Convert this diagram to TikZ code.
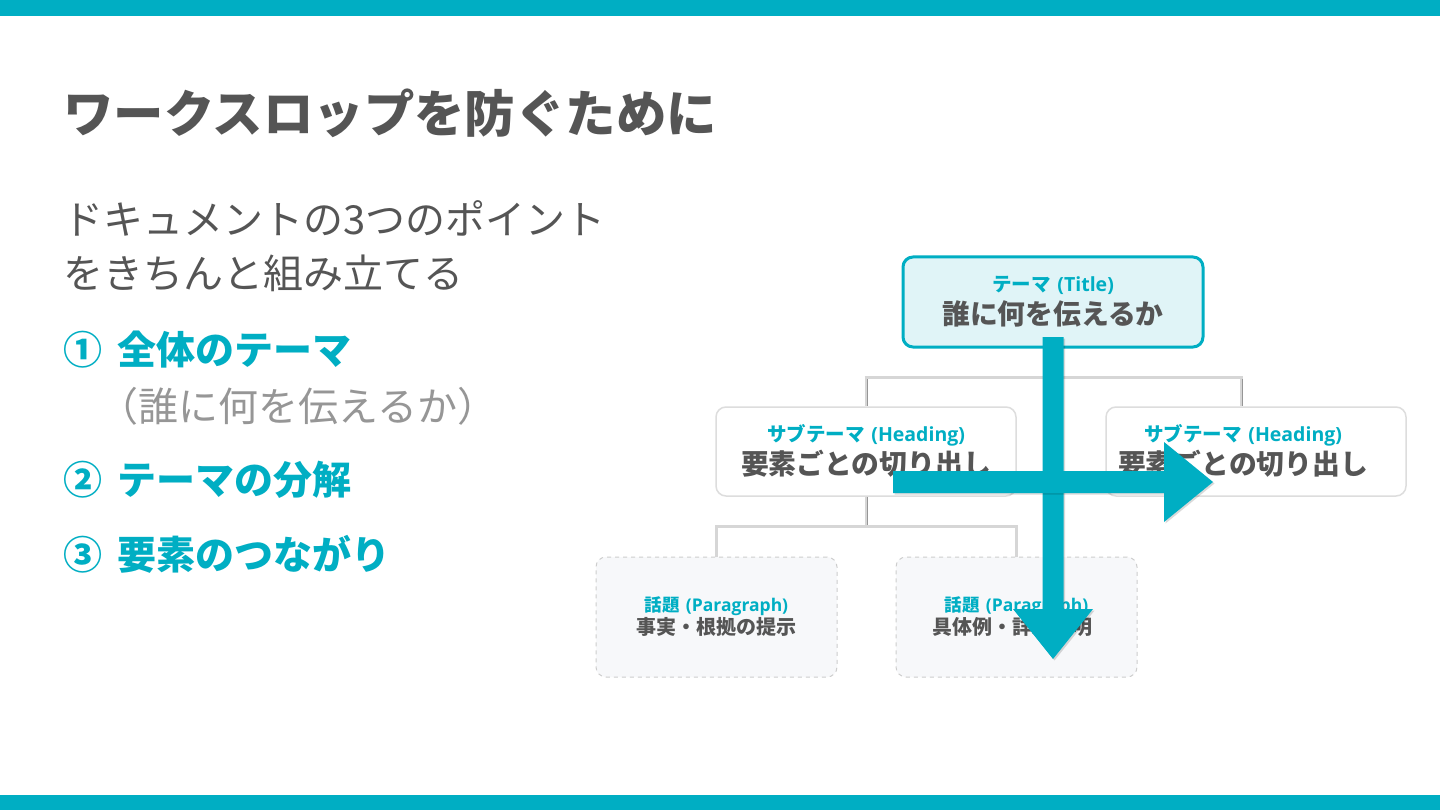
\documentclass[tikz,border=0pt]{standalone}
\usepackage{fontspec}
\setmainfont{Noto Sans CJK JP}
\newfontfamily\lf{Open Sans}
\usetikzlibrary{shadows}
\definecolor{teal1}{RGB}{0,174,195}
\definecolor{tealfill}{RGB}{224,244,247}
\definecolor{dark}{RGB}{85,85,85}
\definecolor{mid}{RGB}{150,150,150}
\definecolor{boxline}{RGB}{221,221,221}
\definecolor{parafill}{RGB}{247,248,250}
\definecolor{paraline}{RGB}{205,205,205}
\definecolor{hl}{RGB}{214,214,214}
\definecolor{vl}{RGB}{150,150,150}
\newcommand{\fs}[1]{\fontsize{#1}{#1}\selectfont}
\newcommand{\labgap}{\hspace{0.35em}}
\tikzset{
  txt/.style={inner sep=0pt, anchor=west, text=dark},
  titlebox/.style={draw=teal1, line width=3pt, fill=tealfill, rounded corners=10pt,
    minimum width=300pt, minimum height=90pt, inner sep=0pt},
  headbox/.style={draw=boxline, line width=1.5pt, fill=white, rounded corners=10pt,
    minimum width=300pt, minimum height=89pt, inner sep=0pt},
  parabox/.style={draw=paraline, line width=1pt, dash pattern=on 4pt off 4pt, fill=parafill,
    rounded corners=10pt, minimum width=241pt, minimum height=120pt, inner sep=0pt},
  lab/.style={inner sep=0pt, text=teal1, font=\bfseries\fs{19.5}},
  mainlab/.style={inner sep=0pt, text=dark, font=\bfseries\fs{27.8}},
  plab/.style={inner sep=0pt, text=teal1, font=\bfseries\fs{17.5}},
  pmain/.style={inner sep=0pt, text=dark, font=\bfseries\fs{20}},
  hline/.style={draw=hl, line width=3pt},
  vline/.style={draw=vl, line width=0.7pt, double=hl, double distance=1.6pt},
  bigarrow/.style={fill=teal1, draw=none, drop shadow={shadow xshift=1.5pt, shadow yshift=-1.5pt, opacity=0.15, fill=black}},
}
\begin{document}
\begin{tikzpicture}[x=1pt, y=-1pt]
\useasboundingbox (0,0) rectangle (1440,810);
\fill[white] (0,0) rectangle (1440,810);
% bars
\fill[teal1] (0,0) rectangle (1440,16);
\fill[teal1] (0,795) rectangle (1440,810);

% left text
\node[txt, font=\bfseries\fs{50.4}] (ttl) at (63,113) {ワークスロップを防ぐために};
\node[txt, font=\fs{40}] (s1) at (63,218) {ドキュメントの3つのポイント};
\node[txt, font=\fs{40}] (s2) at (63,273) {をきちんと組み立てる};
\node[txt, font=\bfseries\fs{39}, text=teal1] (i1) at (63,350) {①\hspace{15pt}全体のテーマ};
\node[txt, font=\fs{40}, text=mid] (i1b) at (98,406) {（誰に何を伝えるか）};
\node[txt, font=\bfseries\fs{39}, text=teal1] (i2) at (63,480) {②\hspace{15pt}テーマの分解};
\node[txt, font=\bfseries\fs{39}, text=teal1] (i3) at (63,554) {③\hspace{15pt}要素のつながり};

% boxes
\node[titlebox] (title) at (1053,302) {};
\node[lab] (titleA) at (1053,285) {テーマ\labgap{\lf(Title)}};
\node[mainlab] (titleB) at (1053,314) {誰に何を伝えるか};

\node[headbox] (h1) at (866,451.5) {};
\node[lab] (h1a) at (866,435) {サブテーマ\labgap{\lf(Heading)}};
\node[mainlab] (h1b) at (866,464) {要素ごとの切り出し};
\node[headbox] (h2) at (1256,451.5) {};
\node[lab] (h2a) at (1243,435) {サブテーマ\labgap{\lf(Heading)}};
\node[mainlab] (h2b) at (1243,464) {要素ごとの切り出し};

\node[parabox] (p1) at (716.5,617) {};
\node[plab] (p1a) at (716.5,606) {話題\labgap{\lf(Paragraph)}};
\node[pmain] (p1b) at (716.5,627) {事実・根拠の提示};
\node[parabox] (p2) at (1016.5,617) {};
\node[plab] (p2a) at (1016.5,606) {話題\labgap{\lf(Paragraph)}};
\node[pmain] (p2b) at (1012,627) {具体例・詳細説明};

% connectors
\coordinate (j1) at (1053,377);
\coordinate (j1l) at (866,377);
\coordinate (j1r) at (1241,377);
\draw[vline] (title.south) -- (j1);
\draw[vline] (j1l) -- (h1.north);
\draw[vline] (j1r) -- (j1r |- h2.north);
\draw[hline] ([xshift=-1.5pt]j1l) -- ([xshift=1.5pt]j1r);
\coordinate (j2) at (866,526);
\coordinate (j2l) at (716.5,526);
\coordinate (j2r) at (1016.5,526);
\draw[vline] (h1.south) -- (j2);
\draw[hline] (j2l) -- (p1.north);
\draw[hline] (j2r) -- (p2.north);
\draw[hline] ([xshift=-1.5pt]j2l) -- ([xshift=1.5pt]j2r);

% big arrows
\path[bigarrow] (1042.5,337) -- (1063.5,337) -- (1063.5,609) -- (1093,609) -- (1053,659)
  -- (1013,609) -- (1042.5,609) -- cycle;
\path[bigarrow] (893,471) -- (1164,471) -- (1164,442) -- (1213,482) -- (1164,522)
  -- (1164,493) -- (893,493) -- cycle;
\end{tikzpicture}
\end{document}
